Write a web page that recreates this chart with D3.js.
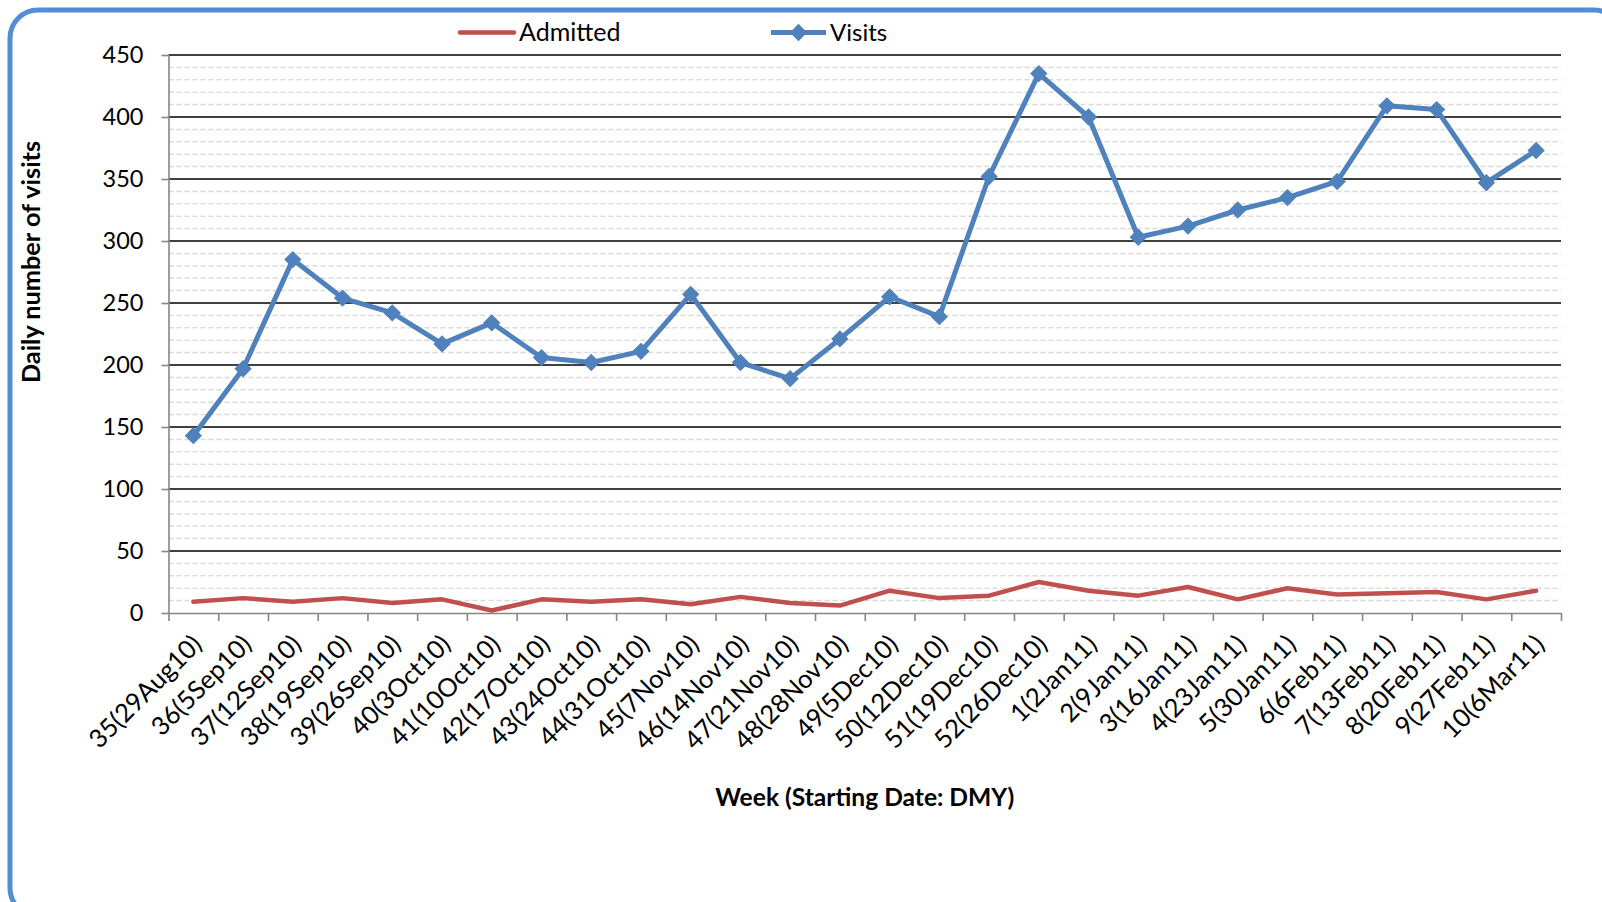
<!DOCTYPE html>
<html>
<head>
<meta charset="utf-8">
<script src="https://cdn.jsdelivr.net/npm/d3@7"></script>
<style>
  html, body { margin: 0; padding: 0; background: #ffffff; }
  svg { display: block; font-family: Lato, "Open Sans", sans-serif; }
</style>
</head>
<body>
<svg id="chart" width="1602" height="902"></svg>
<script>
const weeks = ["35(29Aug10)", "36(5Sep10)", "37(12Sep10)", "38(19Sep10)", "39(26Sep10)", "40(3Oct10)",
  "41(10Oct10)", "42(17Oct10)", "43(24Oct10)", "44(31Oct10)", "45(7Nov10)", "46(14Nov10)",
  "47(21Nov10)", "48(28Nov10)", "49(5Dec10)", "50(12Dec10)", "51(19Dec10)", "52(26Dec10)",
  "1(2Jan11)", "2(9Jan11)", "3(16Jan11)", "4(23Jan11)", "5(30Jan11)", "6(6Feb11)",
  "7(13Feb11)", "8(20Feb11)", "9(27Feb11)", "10(6Mar11)"];
const visits = [143, 197, 285, 254, 242, 217, 234, 206, 202, 211, 257, 202, 189, 221,
  255, 239, 352, 435, 400, 303, 312, 325, 335, 348, 409, 406, 347, 373];
const admitted = [9, 12, 9, 12, 8, 11, 2, 11, 9, 11, 7, 13, 8, 6,
  18, 12, 14, 25, 18, 14, 21, 11, 20, 15, 16, 17, 11, 18];
const yMajorTicks = [0, 50, 100, 150, 200, 250, 300, 350, 400, 450];
const seriesNames = ["Admitted", "Visits"];
const yTitle = "Daily number of visits";
const xTitle = "Week (Starting Date: DMY)";

(function () {
const svg = d3.select("#chart");
const pL = 168.5, pR = 1561, pT = 55, pB = 613;
const red = "#C0504D", blue = "#4F81BD";

// outer frame
svg.append("rect").attr("x", 10).attr("y", 10).attr("width", 1612).attr("height", 906)
  .attr("rx", 28).attr("ry", 28).attr("fill", "none").attr("stroke", "#548DD4").attr("stroke-width", 5);

const x = d3.scaleBand().domain(weeks).range([pL, pR]).padding(0);
const y = d3.scaleLinear().domain([0, 450]).range([pB, pT]);
const cx = d => x(d) + x.bandwidth() / 2;

// minor dashed gridlines
const minor = d3.range(10, 450, 10).filter(v => v % 50 !== 0);
svg.append("g").selectAll("line").data(minor).join("line")
  .attr("x1", pL).attr("x2", pR).attr("y1", d => y(d)).attr("y2", d => y(d))
  .attr("stroke", "#D9D9D9").attr("stroke-width", 1.5).attr("stroke-dasharray", "5,3");

// major gridlines
svg.append("g").selectAll("line").data(yMajorTicks.filter(v => v > 0)).join("line")
  .attr("x1", pL).attr("x2", pR).attr("y1", d => y(d)).attr("y2", d => y(d))
  .attr("stroke", "#000").attr("stroke-width", 1.6);

// y axis
const yAxis = svg.append("g").attr("transform", `translate(${pL},0)`)
  .call(d3.axisLeft(y).tickValues(yMajorTicks).tickSize(7).tickPadding(18).tickSizeOuter(0));
yAxis.select(".domain").attr("stroke", "#868686").attr("stroke-width", 1.6);
yAxis.selectAll(".tick line").attr("stroke", "#868686").attr("stroke-width", 1.6);
yAxis.selectAll("text").attr("font-size", 23.5).attr("fill", "#000").attr("font-family", "Lato");

// x axis boundary ticks
const xb = d3.scaleLinear().domain([0, weeks.length]).range([pL, pR]);
const xAxisB = svg.append("g").attr("transform", `translate(0,${pB})`)
  .call(d3.axisBottom(xb).tickValues(d3.range(weeks.length + 1)).tickFormat("").tickSize(8).tickSizeOuter(0));
xAxisB.select(".domain").attr("stroke", "#868686").attr("stroke-width", 1.6);
xAxisB.selectAll(".tick line").attr("stroke", "#868686").attr("stroke-width", 1.6);

// x labels
const xAxis = svg.append("g").attr("transform", `translate(0,${pB})`)
  .call(d3.axisBottom(x).tickSize(0).tickPadding(0));
xAxis.select(".domain").remove();
xAxis.selectAll(".tick text")
  .attr("font-size", 25.5).attr("fill", "#000").attr("font-family", "Lato")
  .attr("text-anchor", "end").attr("dy", 0).attr("y", 0)
  .attr("transform", "translate(10,33) rotate(-45)");

// lines
const line = d3.line().x((d, i) => cx(weeks[i])).y(d => y(d));
svg.append("path").datum(admitted).attr("d", line).attr("fill", "none")
  .attr("stroke", red).attr("stroke-width", 4.5).attr("stroke-linejoin", "round").attr("stroke-linecap", "round");
svg.append("path").datum(visits).attr("d", line).attr("fill", "none")
  .attr("stroke", blue).attr("stroke-width", 5).attr("stroke-linejoin", "round");
const diamond = d3.symbol().type(d3.symbolSquare).size(150);
svg.append("g").selectAll("path").data(visits).join("path")
  .attr("d", diamond)
  .attr("transform", (d, i) => `translate(${cx(weeks[i])},${y(d)}) rotate(45)`)
  .attr("fill", blue);

// legend
const lg = svg.append("g");
lg.append("line").attr("x1", 460).attr("x2", 514).attr("y1", 32.5).attr("y2", 32.5)
  .attr("stroke", red).attr("stroke-width", 4.5).attr("stroke-linecap", "round");
lg.append("text").attr("x", 519).attr("y", 32.5).attr("dy", "0.35em").attr("font-size", 25)
  .text(seriesNames[0]);
lg.append("line").attr("x1", 771).attr("x2", 826).attr("y1", 32.5).attr("y2", 32.5)
  .attr("stroke", blue).attr("stroke-width", 5);
lg.append("path").attr("d", diamond).attr("transform", "translate(798.5,32.5) rotate(45)").attr("fill", blue);
lg.append("text").attr("x", 830).attr("y", 32.5).attr("dy", "0.35em").attr("font-size", 24)
  .text(seriesNames[1]);

// titles
svg.append("text").attr("x", (pL + pR) / 2).attr("y", 806).attr("text-anchor", "middle")
  .attr("font-size", 24.6).attr("font-weight", "bold").text(xTitle);
svg.append("text").attr("transform", "translate(40,262) rotate(-90)").attr("text-anchor", "middle")
  .attr("font-size", 25.3).attr("font-weight", "bold").text(yTitle);
})();
</script>
</body>
</html>
